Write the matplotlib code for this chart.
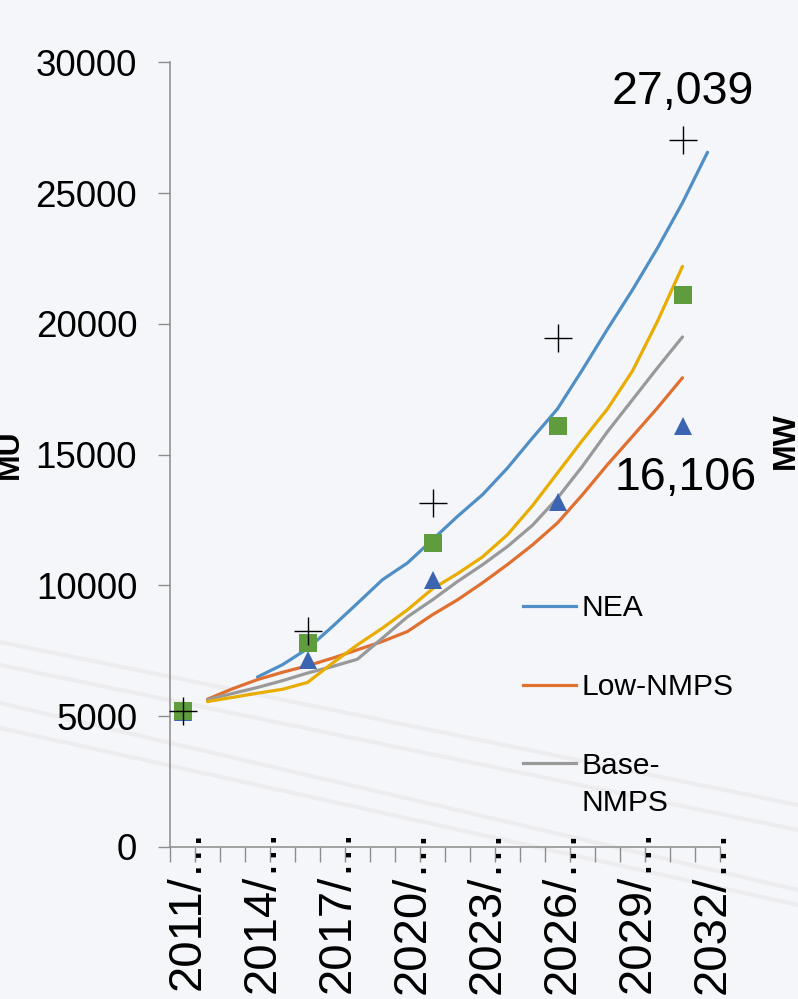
import matplotlib
matplotlib.use("Agg")
import matplotlib.pyplot as plt
from matplotlib.lines import Line2D
from matplotlib.transforms import blended_transform_factory, ScaledTranslation
import numpy as np

plt.rcParams['font.family'] = ['Liberation Sans', 'DejaVu Sans']

# ---------------- data ----------------
years = list(range(2011, 2033))          # 22 categories
label_years = [2011, 2014, 2017, 2020, 2023, 2026, 2029, 2032]

nea = [None, None, None, 6500, 6970, 7580, 8430, 9320, 10220, 10860, 11750,
       12640, 13470, 14490, 15640, 16750, 18250, 19800, 21300, 22900, 24630, 26560]
low_nmps = [None, 5650, 6050, 6400, 6680, 6930, 7220, 7540, 7860, 8240, 8880,
            9450, 10100, 10800, 11550, 12390, 13470, 14620, 15700, 16790, 17940, None]
base_nmps = [None, 5630, 5870, 6100, 6360, 6650, 6900, 7180, 7990, 8800, 9450,
             10150, 10790, 11490, 12300, 13340, 14560, 15880, 17100, 18320, 19500, None]
high_nmps = [None, 5560, 5720, 5880, 6030, 6290, 7030, 7730, 8370, 9070, 9870,
             10450, 11090, 11940, 13050, 14300, 15550, 16750, 18200, 20100, 22200, None]

marker_years = [2011, 2016, 2021, 2026, 2031]
plus_vals = [5205, 8240, 13165, 19441, 27039]
square_vals = [5190, 7795, 11630, 16110, 21090]
triangle_vals = [5150, 7150, 10190, 13190, 16106]

legend_labels = ["NEA", "Low-NMPS", "Base-\nNMPS"]

# ---------------- style ----------------
c_nea = '#4f8fc6'
c_low = '#e07030'
c_base = '#999999'
c_high = '#e8ad00'
c_sq = '#5e9c3e'
c_tri = '#3b65b0'
axis_c = '#8c8c8c'
bg = '#f5f6fa'

W, H = 798, 999
fig = plt.figure(figsize=(W / 100, H / 100), dpi=100, facecolor=bg)

# faint background diagonal lines
for (y0, y1) in [(642, 805), (665, 830), (703, 890), (728, 905)]:
    fig.add_artist(Line2D([0, 1], [1 - y0 / H, 1 - y1 / H], color='#ededf0',
                          lw=3, zorder=0, transform=fig.transFigure))

ax = fig.add_axes([170 / W, 1 - 847 / H, 550 / W, (847 - 62.3) / H])
ax.set_facecolor('none')

idx = {y: i for i, y in enumerate(years)}

def series(vals):
    xs = [i for i, v in enumerate(vals) if v is not None]
    ys = [v for v in vals if v is not None]
    return xs, ys

lw = 2.3
for vals, col in [(nea, c_nea), (low_nmps, c_low), (base_nmps, c_base), (high_nmps, c_high)]:
    xs, ys = series(vals)
    ax.plot(xs, ys, color=col, lw=lw, solid_capstyle='round', zorder=2)

mx = [idx[y] for y in marker_years]
ax.plot(mx, triangle_vals, ls='none', marker='^', ms=13, color=c_tri, mew=0, zorder=3, clip_on=False)
ax.plot(mx, square_vals, ls='none', marker='s', ms=12.5, color=c_sq, mew=0, zorder=4, clip_on=False)
ax.plot(mx, plus_vals, ls='none', marker='+', ms=20, color='black', mew=1.0, zorder=5, clip_on=False)

# annotations
ax.annotate(f"{plus_vals[-1]:,}", xy=(mx[-1], plus_vals[-1]), xytext=(0, 26),
            textcoords='offset points', ha='center', va='baseline', fontsize=33.5)
ax.annotate(f"{triangle_vals[-1]:,}", xy=(mx[-1], triangle_vals[-1]), xytext=(2, -46.5),
            textcoords='offset points', ha='center', va='baseline', fontsize=33.5)

# axes
ax.set_xlim(-0.5, len(years) - 0.5)
ax.set_ylim(0, 30000)
ax.set_yticks(np.arange(0, 30001, 5000))
ax.set_yticklabels([str(v) for v in range(0, 30001, 5000)], fontsize=26.5)
ax.set_xticks(np.arange(-0.5, len(years), 1.0))
ax.set_xticklabels([])
ax.tick_params(axis='y', direction='out', length=8.6, width=1.0, color=axis_c, pad=15)
ax.tick_params(axis='x', direction='out', length=10.8, width=1.0, color=axis_c)
for s in ['top', 'right']:
    ax.spines[s].set_visible(False)
for s in ['left', 'bottom']:
    ax.spines[s].set_color(axis_c)
    ax.spines[s].set_linewidth(1.1)

# rotated truncated category labels
trans = blended_transform_factory(ax.transData, ax.transAxes) + \
    ScaledTranslation(17.5 / 100, 0, fig.dpi_scale_trans)
for y in label_years:
    ax.text(idx[y], (847 - 828) / (847 - 62.3), f"{y}/\u2026", rotation=90,
            rotation_mode='anchor', ha='right', va='baseline', fontsize=34,
            transform=trans, clip_on=False)

# legend (manual, matching layout)
leg_y = [605.7, 685, 763.3]
leg_base = [616.5, 695.3, 773.5]
cols = [c_nea, c_low, c_base]
for ly, lb, col, lab in zip(leg_y, leg_base, cols, legend_labels):
    fig.add_artist(Line2D([522.7 / W, 576 / W], [1 - ly / H, 1 - ly / H], color=col,
                          lw=lw, transform=fig.transFigure))
    lines = lab.split("\n")
    for k, t in enumerate(lines):
        fig.text(581.7 / W, 1 - (lb + k * 37.2) / H, t, fontsize=21.6,
                 ha='left', va='baseline')

# axis unit labels (partly cut at the edges, as in the reference)
fig.text(18 / W, 1 - 454.5 / H, "MU", rotation=90, rotation_mode='anchor',
         ha='center', va='baseline', fontsize=23, fontweight='bold')
fig.text(793.5 / W, 1 - 440.5 / H, "MW", rotation=90, rotation_mode='anchor',
         ha='center', va='baseline', fontsize=23, fontweight='bold')

fig.savefig("out.png", dpi=100, facecolor=bg)
